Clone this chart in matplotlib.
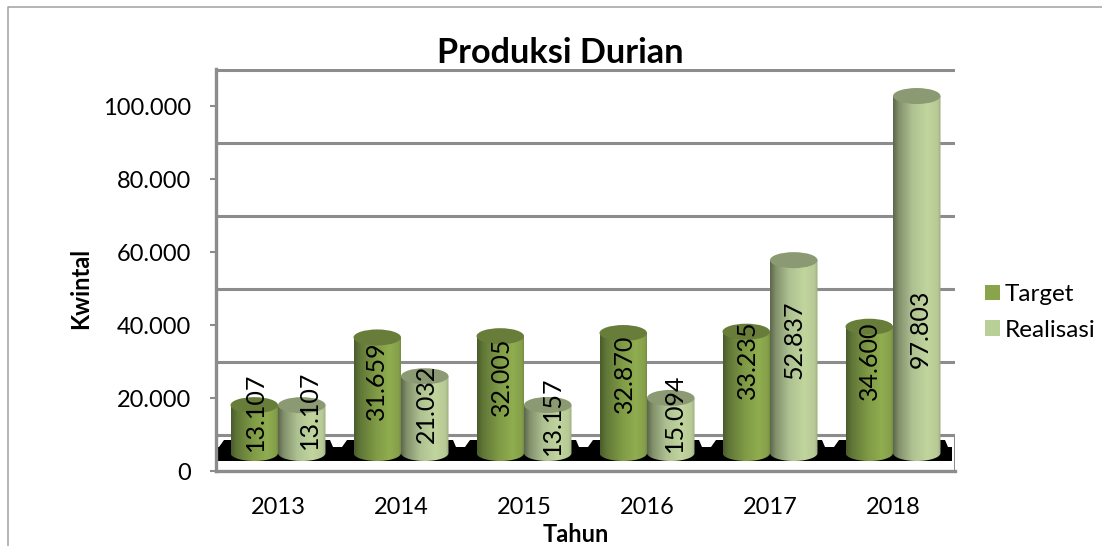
import numpy as np
import matplotlib
matplotlib.use("Agg")
from matplotlib import pyplot as plt
from matplotlib.colors import LinearSegmentedColormap
from matplotlib.lines import Line2D
from matplotlib.patches import Ellipse, PathPatch, Patch, Polygon
from matplotlib.path import Path
from matplotlib.ticker import FuncFormatter

tahun = ["2013", "2014", "2015", "2016", "2017", "2018"]
target = [13107, 31659, 32005, 32870, 33235, 34600]
realisasi = [13107, 21032, 13157, 15094, 52837, 97803]
y_ticks = [0, 20000, 40000, 60000, 80000, 100000]

# where the labels sit in the picture, in pixels
label_x_target = [255, 376, 501, 624, 747, 869]
label_y_target = [412, 381, 377, 374, 360, 361]
label_x_realisasi = [309, 426, 552, 674, 794, 920]
label_y_realisasi = [410, 404, 416, 413, 340, 329]

W, H = 1102, 546
LEFT, RIGHT, TOP, BOTTOM = 216, 955, 69, 471
PX_PER_UNIT = 365 / 100000
GROUP_PX = 123
FIRST_PX = 278
GRID = "#8c8c8c"

plt.rcParams["font.family"] = ["Lato", "DejaVu Sans"]

fig = plt.figure(figsize=(W / 100, H / 100), dpi=100)
ax = fig.add_axes([LEFT / W, 1 - BOTTOM / H, (RIGHT - LEFT) / W, (BOTTOM - TOP) / H])


def xd(px):
    return (px - FIRST_PX) / GROUP_PX


def yd(px):
    return (BOTTOM - px) / PX_PER_UNIT


xlim = (xd(LEFT), xd(RIGHT))
ylim = (0, yd(TOP))
wall = yd(435)  # back wall sits above the front axis
base = yd(453)
bar_w = 47.5 / GROUP_PX
cap_h = 16 / PX_PER_UNIT

cmap_t = LinearSegmentedColormap.from_list(
    "t", [(0, "#4a5c2c"), (0.12, "#5f7636"), (0.45, "#7f9a46"), (0.75, "#90ad50"), (0.93, "#86a04a"), (1, "#6f8740")])
cmap_r = LinearSegmentedColormap.from_list(
    "r", [(0, "#5c674c"), (0.12, "#83916c"), (0.4, "#aec192"), (0.72, "#c1d59e"), (0.93, "#b8cb96"), (1, "#9aac7f")])


def cylinder(x0, value, cmap, cap):
    top = base + value
    t = np.linspace(0, np.pi, 60)
    xs = x0 + bar_w / 2 + bar_w / 2 * np.cos(t)
    ys = base - cap_h / 2 * np.sin(t)
    verts = [(x0, top), (x0 + bar_w, top)] + list(zip(xs, ys)) + [(x0, top)]
    body = PathPatch(Path(verts), transform=ax.transData, fc="none", ec="none")
    ax.add_patch(body)
    grad = np.linspace(0, 1, 128).reshape(1, -1)
    im = ax.imshow(grad, cmap=cmap, extent=[x0, x0 + bar_w, base - cap_h, top],
                   aspect="auto", zorder=3, interpolation="bilinear")
    im.set_clip_path(body)
    ax.add_patch(Ellipse((x0 + bar_w / 2, top), bar_w, cap_h, fc=cap, ec="none", zorder=4))


# back wall lines
for t in y_ticks:
    ax.plot(xlim, [t + wall, t + wall], color=GRID, lw=2.2, zorder=1, solid_capstyle="butt")
ax.plot([xlim[1], xlim[1]], [0, wall], color=GRID, lw=2.2, zorder=1)

# black shadow along the floor
outline = [(218, 461), (218, 447)]
for i in range(len(tahun)):
    c = FIRST_PX + GROUP_PX * i
    lo, hi = c - 54, c + 55
    outline += [(lo - 5, 447), (lo, 440), (hi - 3, 440), (hi, 447)]
outline += [(952, 447), (952, 461)]
outline = [(xd(a), yd(b)) for a, b in outline]
ax.add_patch(Polygon(outline, closed=True, fc="black", ec="none", zorder=2))

for i in range(len(tahun)):
    cylinder(i - bar_w, target[i], cmap_t, "#697d3b")
    cylinder(i, realisasi[i], cmap_r, "#8b9a72")
    ax.text(xd(label_x_target[i]), yd(label_y_target[i]), f"{target[i]:,}".replace(",", "."),
            rotation=90, ha="center", va="center", fontsize=18, color="black", zorder=5)
    ax.text(xd(label_x_realisasi[i]), yd(label_y_realisasi[i]), f"{realisasi[i]:,}".replace(",", "."),
            rotation=90, ha="center", va="center", fontsize=18, color="black", zorder=5)

ax.set_xlim(xlim)
ax.set_ylim(ylim)
ax.set_yticks(y_ticks)
ax.yaxis.set_major_formatter(FuncFormatter(lambda v, p: f"{int(v):,}".replace(",", ".")))
ax.set_xticks(range(len(tahun)))
ax.set_xticklabels(tahun)
ax.tick_params(axis="x", length=0, pad=19, labelsize=17)
ax.tick_params(axis="y", length=4.5, width=1.5, color=GRID, pad=13.5, labelsize=17)
for s in ["top", "right"]:
    ax.spines[s].set_visible(False)
for s in ["left", "bottom"]:
    ax.spines[s].set_color(GRID)
    ax.spines[s].set_linewidth(2.4)

fig.text(560 / W, 1 - 53 / H, "Produksi Durian", fontsize=24.7, fontweight="bold", ha="center", va="center")
fig.text(576 / W, 1 - 534 / H, "Tahun", fontsize=17, fontweight="bold", ha="center", va="center")
fig.text(81 / W, 1 - 288 / H, "Kwintal", fontsize=17, fontweight="bold", ha="center", va="center", rotation=90)

handles = [Patch(fc="#8aa44c", ec="none"), Patch(fc="#b9cf98", ec="none")]
fig.legend(handles, ["Target", "Realisasi"], loc="upper left", bbox_to_anchor=(985 / W, 1 - 284 / H),
           frameon=False, fontsize=17.5, handlelength=0.62, handleheight=0.62, handletextpad=0.2,
           labelspacing=0.6, borderpad=0, borderaxespad=0)

# outer chart frame, only top and left end inside the picture
fig.add_artist(Line2D([8 / W, 8 / W, 1], [0, 1 - 7 / H, 1 - 7 / H], color="#a0a0a0", lw=1.1))

fig.savefig("out.png", dpi=100)
